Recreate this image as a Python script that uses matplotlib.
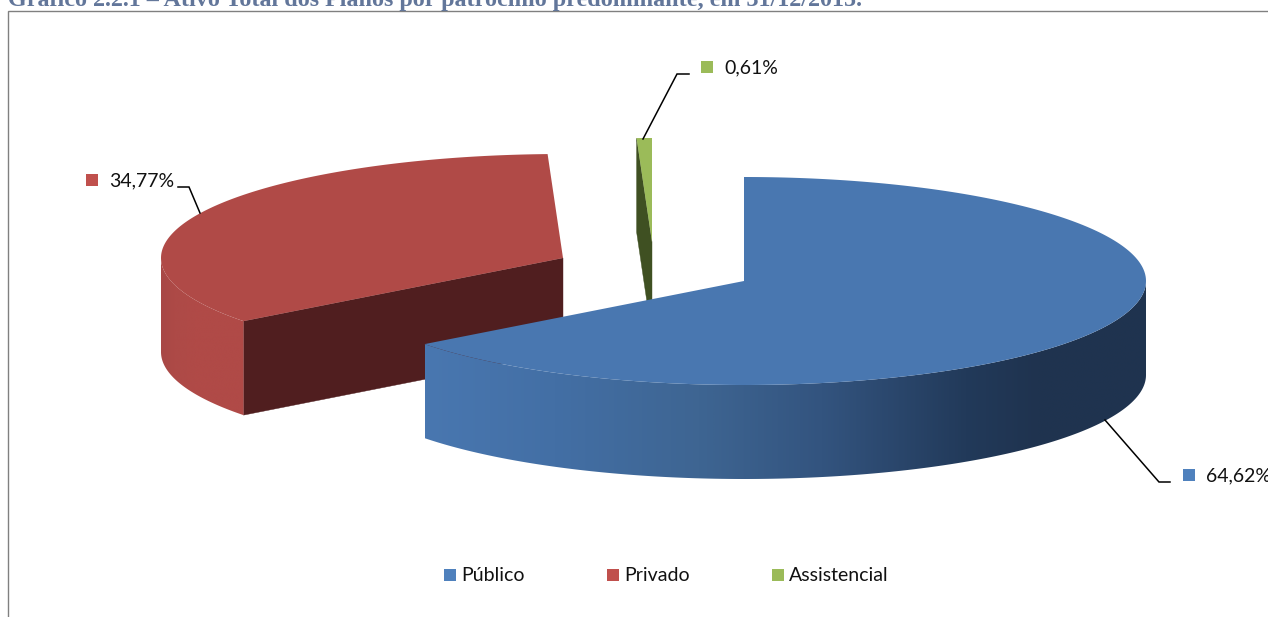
import numpy as np
import matplotlib
matplotlib.use("Agg")
import matplotlib.pyplot as plt
from matplotlib.patches import Polygon, Rectangle
from matplotlib.colors import LinearSegmentedColormap

# ---- data ----
categories = ["Público", "Privado", "Assistencial"]
shares = [64.62, 34.77, 0.61]
title = "Gráfico 2.2.1 – Ativo Total dos Planos por patrocínio predominante, em 31/12/2015."

# ---- style / layout ----
W, H = 1268, 617
RX, RY, DEPTH = 402.0, 104.0, 94.0
apexes = [(744, 281), (563, 258), (652, 242)]
top_cols = ["#4977B0", "#B04A47", "#9BBB59"]
swatch_cols = ["#4F81BD", "#C0504D", "#9BBB59"]
face_cols = [None, "#501E1F", "#3F5022"]
wall_ramps = [
    [(0.0, "#4977B0"), (0.18, "#436FA5"), (0.38, "#3E6592"), (0.55, "#33547F"),
     (0.75, "#223A5A"), (0.85, "#1F334F"), (1.0, "#1F344F")],
    [(0.0, "#A84846"), (0.15, "#AD4A47"), (0.4, "#B04A47"), (1.0, "#B04A47")],
    [(0.0, "#3F5022"), (1.0, "#3F5022")],
]

fig = plt.figure(figsize=(W / 100, H / 100), dpi=100, facecolor="white")
ax = fig.add_axes([0, 0, 1, 1])
ax.axis("off")


def rim(apex, theta_deg, drop=0.0):
    """Point(s) on the slice rim; angle runs clockwise from twelve o'clock."""
    t = np.radians(theta_deg)
    return np.column_stack([apex[0] + RX * np.sin(t),
                            apex[1] - RY * np.cos(t) + drop])


def draw_slice(apex, a0, a1, top, face, ramp, order):
    arc = np.linspace(a0, a1, 240)
    # radial face that looks towards the viewer
    if face is not None:
        face_angle = a0 if a0 > 180 else a1
        p = rim(apex, face_angle)[0]
        ax.add_patch(Polygon([p, apex, (apex[0], apex[1] + DEPTH), (p[0], p[1] + DEPTH)],
                             closed=True, fc=face, ec=face, lw=0.3, zorder=order))
    # outer wall for the part of the rim on the near side (90..270 degrees)
    lo, hi = max(a0, 90), min(a1, 270)
    if hi > lo:
        wa = np.linspace(lo, hi, 260)
        up = rim(apex, wa)
        dn = rim(apex, wa, DEPTH)
        shape = Polygon(np.vstack([up, dn[::-1]]), closed=True, transform=ax.transData,
                        fc="none", ec="none")
        ax.add_patch(shape)
        cmap = LinearSegmentedColormap.from_list("wall", ramp)
        x0, x1 = up[:, 0].min(), up[:, 0].max()
        y0, y1 = up[:, 1].min() - 2, dn[:, 1].max() + 2
        im = ax.imshow(np.linspace(0, 1, 512)[None, :], cmap=cmap, aspect="auto",
                       extent=(x0, x1, y1, y0), zorder=order + 0.1, interpolation="bilinear")
        im.set_clip_path(shape)
    # top surface
    ax.add_patch(Polygon(np.vstack([[apex], rim(apex, arc)]), closed=True,
                         fc=top, ec="none", zorder=order + 0.2))


starts = np.concatenate([[0], np.cumsum(shares)[:-1]]) * 3.6
ends = np.cumsum(shares) * 3.6
orders = [5, 3, 1]
for i in range(len(shares)):
    draw_slice(apexes[i], starts[i], ends[i], top_cols[i], face_cols[i], wall_ramps[i], orders[i])

FONT = "Lato"
FS = 14.0


def swatch(x, y, color):
    ax.add_patch(Rectangle((x, y), 12, 12, fc=color, ec="none", zorder=8))


# data labels with leader lines
label_pos = [(1183, 469), (86, 174), (701, 61)]
leaders = [
    [(1105, 420), (1159, 482), (1170, 482)],
    [(200, 213), (189, 187), (178, 187)],
    [(643, 139), (677, 74), (689, 74)],
]
for i, v in enumerate(shares):
    x, y = label_pos[i]
    swatch(x, y, swatch_cols[i])
    ax.text(x + 23, y + 7, f"{v:.2f}%".replace(".", ","), family=FONT, fontsize=FS,
            color="#111111", va="center", ha="left", zorder=8)
    lx, ly = zip(*leaders[i])
    ax.plot(lx, ly, color="black", lw=1.1, solid_joinstyle="miter", zorder=7)

# legend
legend_x = [444, 607, 772]
for x, name, c in zip(legend_x, categories, swatch_cols):
    swatch(x, 569, c)
    ax.text(x + 17, 575.5, name, family=FONT, fontsize=FS, color="#111111",
            va="center", ha="left", zorder=8)

# outer frame and clipped caption
ax.plot([7.5, 7.5, W], [H, 10.5, 10.5], color="#808080", lw=1.0, zorder=9,
        solid_joinstyle="miter")
ax.text(8, 6, title, family="Liberation Serif", fontweight="bold", fontsize=17.4,
        color="#62769A", va="baseline", ha="left", zorder=9)

ax.set_xlim(0, W)
ax.set_ylim(H, 0)

fig.savefig("out.png", dpi=100, facecolor="white")
